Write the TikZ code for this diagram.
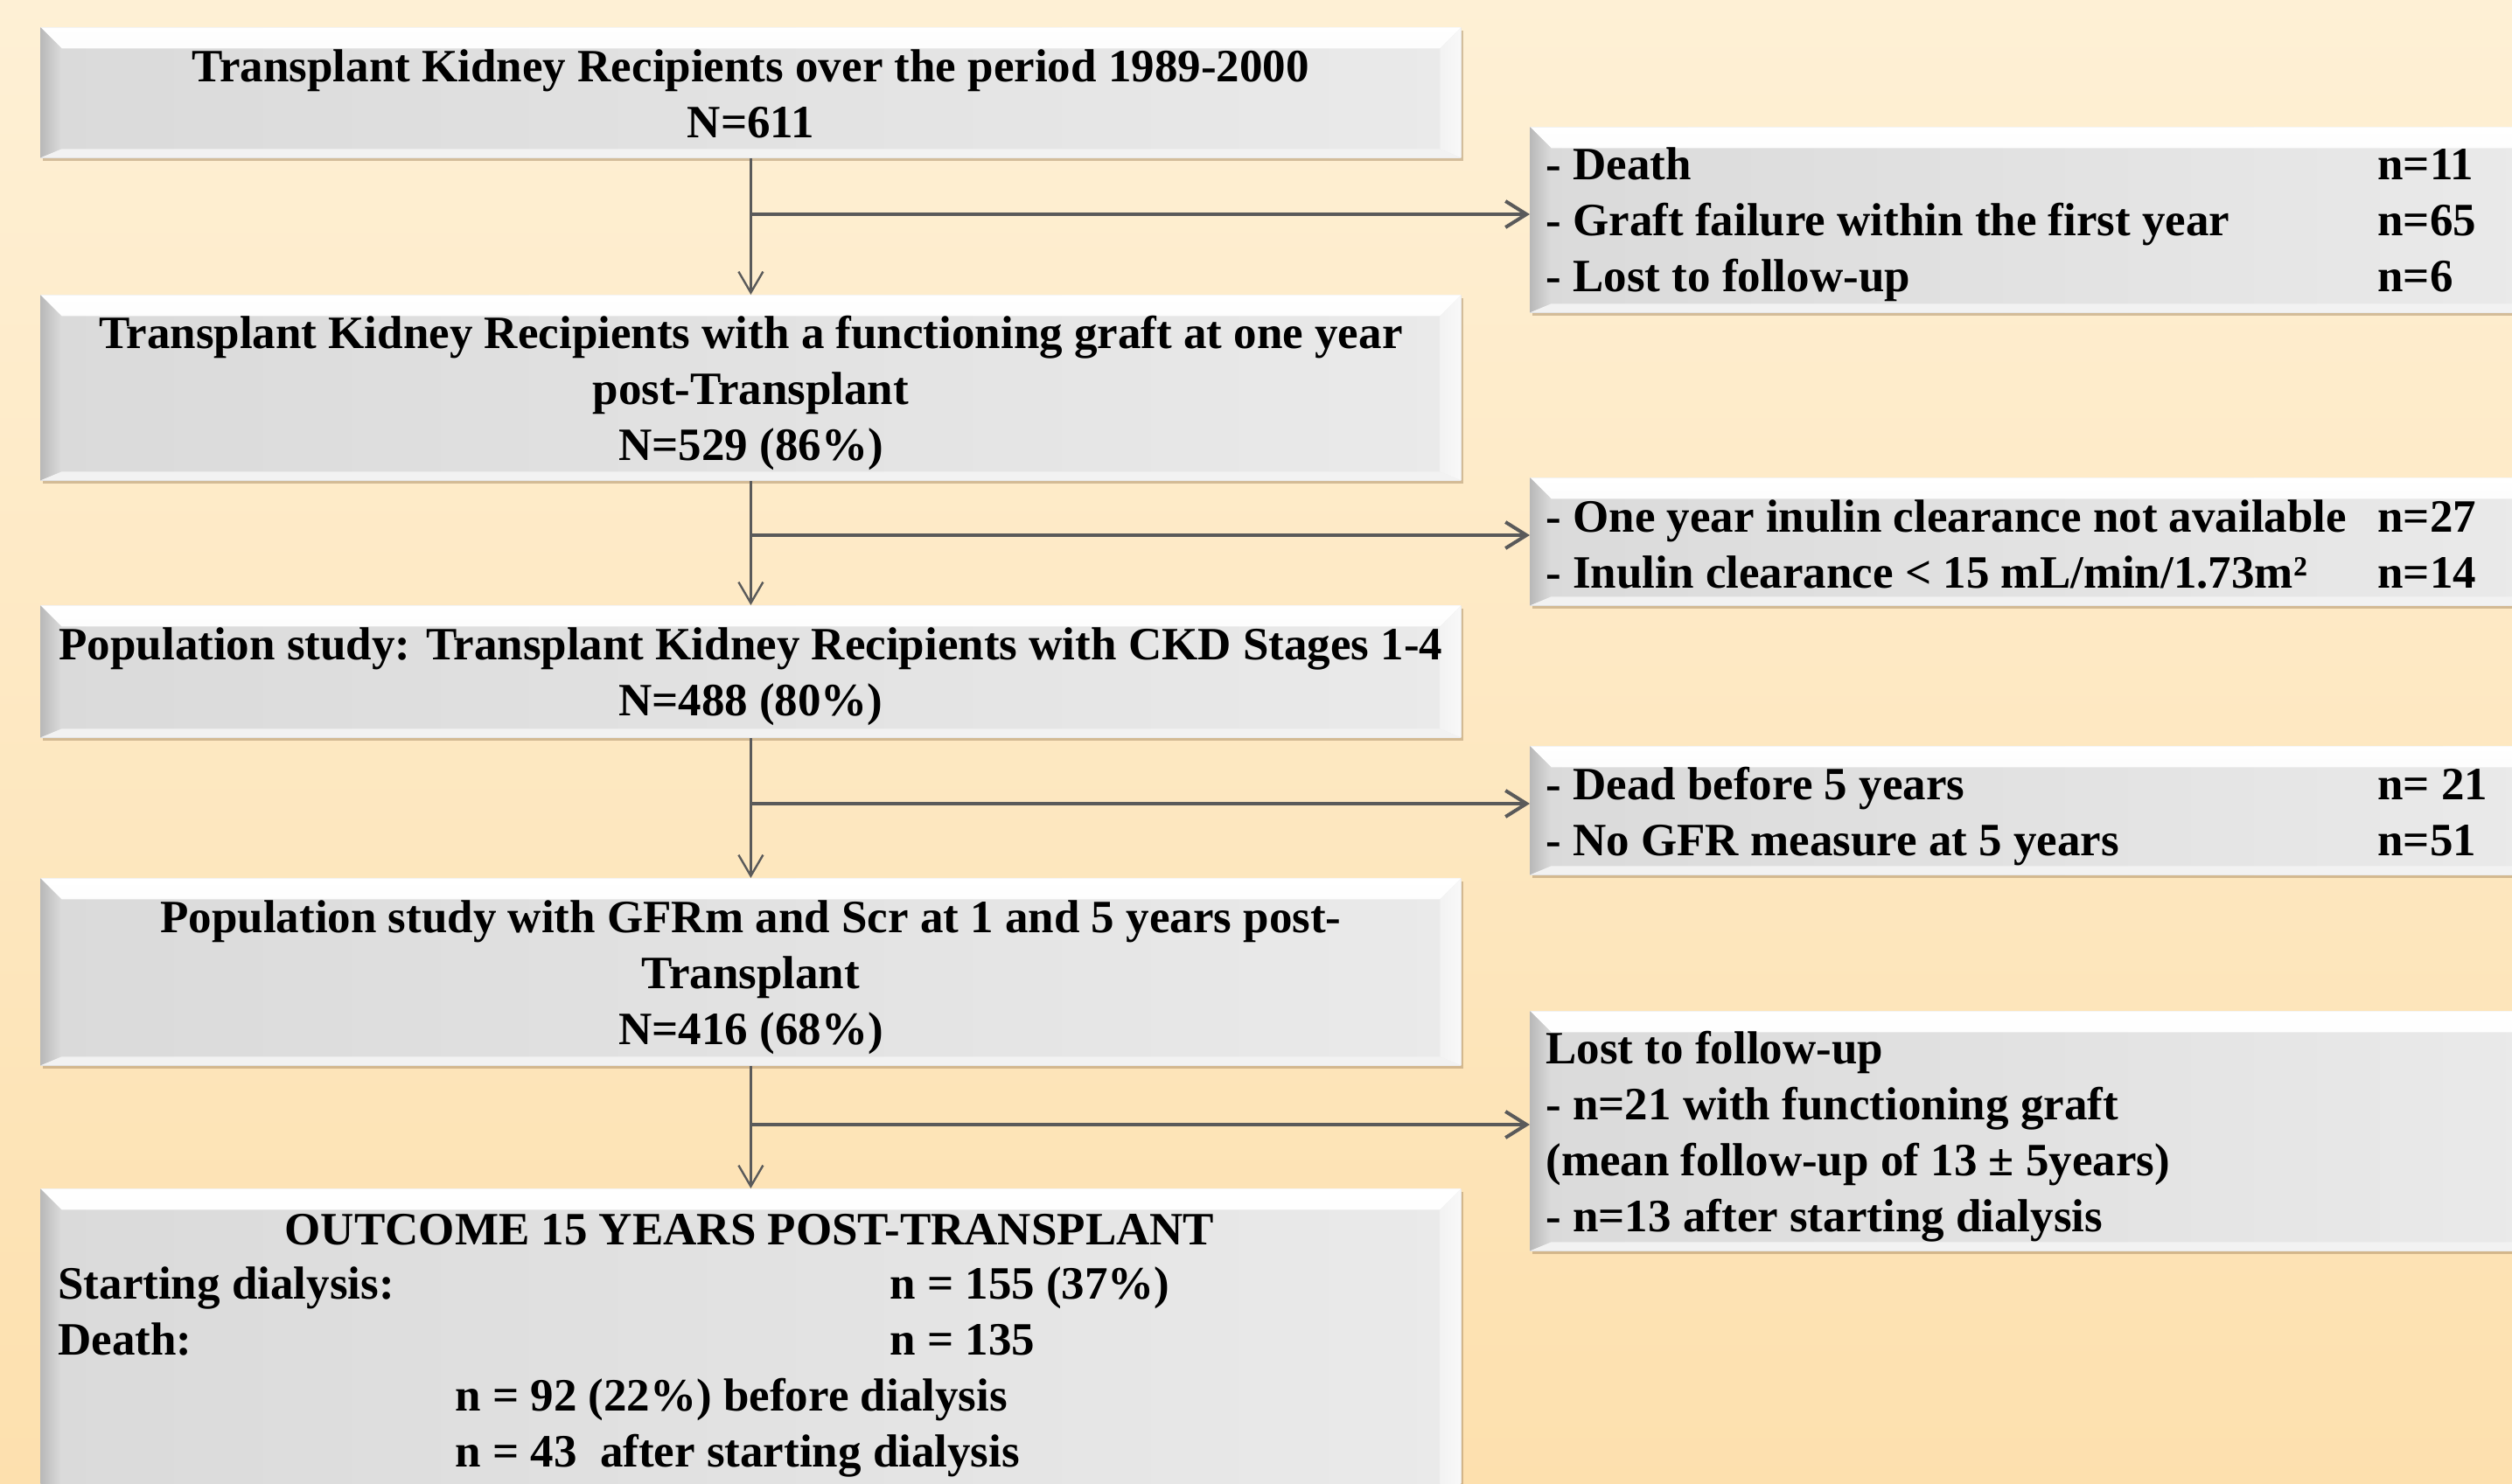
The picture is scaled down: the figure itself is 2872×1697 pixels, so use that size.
\documentclass[tikz,border=0pt]{standalone}
\usepackage{fontspec}
\setmainfont{Liberation Serif}
\usetikzlibrary{arrows.meta,shadows}
\definecolor{bgtop}{RGB}{254,240,213}
\definecolor{bgbot}{RGB}{253,224,174}
\definecolor{boxL}{RGB}{218,218,218}
\definecolor{boxR}{RGB}{234,234,234}
\definecolor{arrowgray}{RGB}{90,90,90}
\definecolor{shadowc}{RGB}{160,130,90}
\newcommand\bxfont{\fontsize{26.5}{32}\selectfont\bfseries}
\newcommand\tstr[1]{\rule{0pt}{#1}}
\tikzset{
  bevelbox/.style={rectangle, inner sep=0pt, draw=none, left color=boxL, right color=boxR,
    drop shadow={shadow xshift=1.5pt, shadow yshift=-2pt, fill=shadowc, opacity=0.45},
    font=\bxfont, align=center,
    path picture={
      \shade[top color=white, bottom color=white!88!gray]
        (path picture bounding box.north west) -- (path picture bounding box.north east)
        -- ([shift={(-12pt,-12pt)}]path picture bounding box.north east)
        -- ([shift={(12pt,-12pt)}]path picture bounding box.north west) -- cycle;
      \shade[left color=gray!55, right color=gray!28]
        (path picture bounding box.north west) -- ([shift={(12pt,-12pt)}]path picture bounding box.north west)
        -- ([shift={(12pt,5pt)}]path picture bounding box.south west) -- (path picture bounding box.south west) -- cycle;
      \shade[left color=gray!10, right color=gray!5]
        (path picture bounding box.north east) -- ([shift={(-12pt,-12pt)}]path picture bounding box.north east)
        -- ([shift={(-12pt,5pt)}]path picture bounding box.south east) -- (path picture bounding box.south east) -- cycle;
      \fill[gray!10]
        (path picture bounding box.south west) -- ([shift={(12pt,5pt)}]path picture bounding box.south west)
        -- ([shift={(-12pt,5pt)}]path picture bounding box.south east) -- (path picture bounding box.south east) -- cycle;
    }},
  txt/.style={inner sep=0pt, font=\bxfont, align=left},
  varrow/.style={draw=arrowgray, line width=1.2pt, -{Straight Barb[length=12pt,width=14pt]}},
  harrow/.style={draw=arrowgray, line width=2pt, -{Straight Barb[length=12pt,width=15pt]}},
}
\begin{document}
\begin{tikzpicture}[x=0.5pt,y=-0.5pt]
\useasboundingbox (0,0) rectangle (2872,1697);
\clip (0,0) rectangle (2872,1697);
\shade[top color=bgtop, bottom color=bgbot] (0,0) rectangle (2872,1697);

% main column
\node[bevelbox, anchor=north west, minimum width=812pt, minimum height=74.5pt] (b1) at (46,31)
  {\tstr{20pt}Transplant Kidney Recipients over the period 1989-2000\\N=611};
\node[bevelbox, anchor=north west, minimum width=812pt, minimum height=106pt] (b2) at (46,337)
  {\tstr{25pt}Transplant Kidney Recipients with a functioning graft at one year\\post-Transplant\\N=529 (86\%)};
\node[bevelbox, anchor=north west, minimum width=812pt, minimum height=75.5pt] (b3) at (46,692)
  {\tstr{24pt}Population study: Transplant Kidney Recipients with CKD Stages 1-4\\N=488 (80\%)};
\node[bevelbox, anchor=north west, minimum width=812pt, minimum height=107pt] (b4) at (46,1004)
  {\tstr{25pt}Population study with GFRm and Scr at 1 and 5 years post-\\Transplant\\N=416 (68\%)};
\node[bevelbox, anchor=north west, minimum width=812pt, minimum height=180pt] (b5) at (46,1359) {};
\node[txt] (b5t) at (857,1406) {OUTCOME 15 YEARS POST-TRANSPLANT};
\node[txt, anchor=west] (b5b) at (66,1569) {%
  \begin{tabular}{@{}p{475.5pt}@{}l@{}}
  Starting dialysis: & n = 155 (37\%)\\
  Death: & n = 135\\
  \multicolumn{2}{@{}l@{}}{\hspace*{227pt}n = 92 (22\%) before dialysis}\\
  \multicolumn{2}{@{}l@{}}{\hspace*{227pt}n = 43\ \ after starting dialysis}
  \end{tabular}};

% right column
\node[bevelbox, anchor=north west, minimum width=575.5pt, minimum height=106pt] (r1) at (1749,145) {};
\node[txt, anchor=west] (r1t) at (1767,257) {%
  \begin{tabular}{@{}p{475.5pt}@{}l@{}}
  - Death & n=11\\
  - Graft failure within the first year & n=65\\
  - Lost to follow-up & n=6
  \end{tabular}};
\node[bevelbox, anchor=north west, minimum width=575.5pt, minimum height=73pt] (r2) at (1749,546) {};
\node[txt, anchor=west] (r2t) at (1767,628) {%
  \begin{tabular}{@{}p{475.5pt}@{}l@{}}
  - One year inulin clearance not available & n=27\\
  - Inulin clearance < 15 mL/min/1.73m² & n=14
  \end{tabular}};
\node[bevelbox, anchor=north west, minimum width=575.5pt, minimum height=73.5pt] (r3) at (1749,853) {};
\node[txt, anchor=west] (r3t) at (1767,934) {%
  \begin{tabular}{@{}p{475.5pt}@{}l@{}}
  - Dead before 5 years & n= 21\\
  - No GFR measure at 5 years & n=51
  \end{tabular}};
\node[bevelbox, anchor=north west, minimum width=575.5pt, minimum height=137pt] (r4) at (1749,1156) {};
\node[txt, anchor=west] (r4t) at (1767,1300) {%
  \begin{tabular}{@{}l@{}}
  Lost to follow-up\\
  - n=21 with functioning graft\\
  (mean follow-up of 13 ± 5years)\\
  - n=13 after starting dialysis
  \end{tabular}};

% connectors
\draw[varrow] (b1.south) -- (b2.north);
\draw[varrow] (b2.south) -- (b3.north);
\draw[varrow] (b3.south) -- (b4.north);
\draw[varrow] (b4.south) -- (b5.north);
\coordinate (j1) at (858,245);
\coordinate (j2) at (858,612);
\coordinate (j3) at (858,919);
\coordinate (j4) at (858,1286);
\draw[harrow] (j1) -- (j1 -| r1.west);
\draw[harrow] (j2) -- (j2 -| r2.west);
\draw[harrow] (j3) -- (j3 -| r3.west);
\draw[harrow] (j4) -- (j4 -| r4.west);
\end{tikzpicture}
\end{document}
